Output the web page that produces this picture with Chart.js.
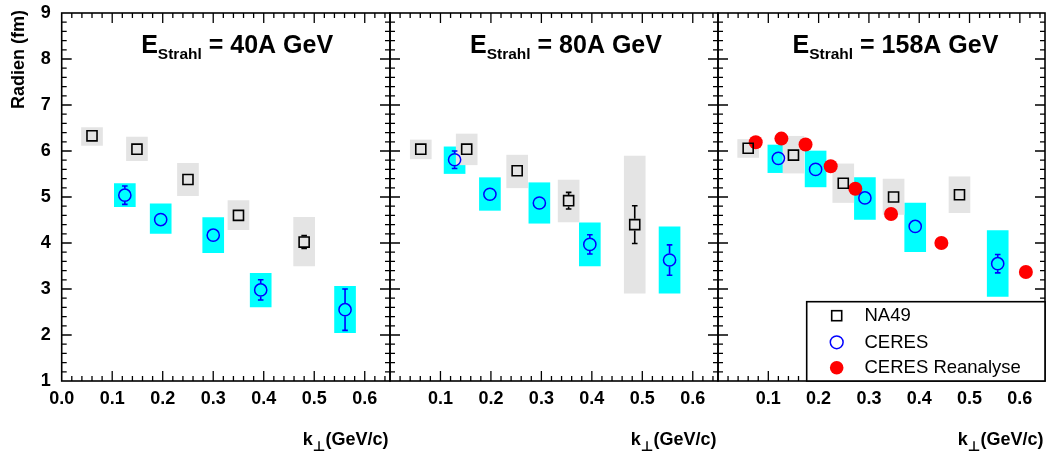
<!DOCTYPE html>
<html>
<head>
<meta charset="utf-8">
<script src="https://cdn.jsdelivr.net/npm/chart.js@4.4.0/dist/chart.umd.min.js"></script>
<style>
  html, body { margin: 0; padding: 0; background: #fff; }
  #wrap { position: relative; width: 1048px; height: 455px; }
  #wrap canvas { position: absolute; left: 0; top: 0; }
</style>
</head>
<body>
<div id="wrap">
  <canvas id="c40" width="1048" height="455"></canvas>
  <canvas id="c80" width="1048" height="455"></canvas>
  <canvas id="c158" width="1048" height="455"></canvas>
</div>
<script>
// panel titles (beam energy)
const energies = ['40A GeV', '80A GeV', '158A GeV'];
const yTitle = 'Radien (fm)';
const legendLabels = ['NA49', 'CERES', 'CERES Reanalyse'];

// 40A GeV
const na49K40 = [0.060, 0.149, 0.250, 0.350, 0.480];
const na49R40 = [6.33, 6.04, 5.38, 4.60, 4.02];
const na49Err40 = [0, 0, 0, 0, 0.14];
const na49SysLo40 = [6.12, 5.79, 5.03, 4.29, 3.50];
const na49SysHi40 = [6.51, 6.30, 5.73, 4.92, 4.56];
const ceresK40 = [0.125, 0.196, 0.300, 0.394, 0.561];
const ceresR40 = [5.04, 4.51, 4.17, 2.98, 2.55];
const ceresErr40 = [0.20, 0, 0, 0.22, 0.45];
const ceresSysLo40 = [4.79, 4.21, 3.79, 2.61, 2.05];
const ceresSysHi40 = [5.29, 4.85, 4.55, 3.34, 3.06];

// 80A GeV
const na49K80 = [0.061, 0.152, 0.252, 0.354, 0.485];
const na49R80 = [6.04, 6.04, 5.57, 4.92, 4.40];
const na49Err80 = [0, 0, 0, 0.18, 0.41];
const na49SysLo80 = [5.83, 5.70, 5.20, 4.46, 2.91];
const na49SysHi80 = [6.24, 6.37, 5.91, 5.37, 5.89];
const ceresK80 = [0.128, 0.198, 0.296, 0.396, 0.554];
const ceresR80 = [5.81, 5.06, 4.87, 3.97, 3.63];
const ceresErr80 = [0.19, 0, 0, 0.21, 0.33];
const ceresSysLo80 = [5.51, 4.71, 4.43, 3.50, 2.91];
const ceresSysHi80 = [6.09, 5.42, 5.31, 4.44, 4.35];

// 158A GeV
const na49K158 = [0.060, 0.150, 0.249, 0.349, 0.480];
const na49R158 = [6.06, 5.91, 5.30, 5.00, 5.05];
const na49Err158 = [0, 0, 0, 0, 0];
const na49SysLo158 = [5.86, 5.52, 4.88, 4.62, 4.66];
const na49SysHi158 = [6.25, 6.32, 5.72, 5.39, 5.44];
const ceresK158 = [0.120, 0.194, 0.292, 0.392, 0.556];
const ceresR158 = [5.84, 5.60, 4.98, 4.36, 3.55];
const ceresErr158 = [0, 0, 0, 0, 0.20];
const ceresSysLo158 = [5.53, 5.22, 4.51, 3.81, 2.84];
const ceresSysHi158 = [6.13, 6.00, 5.42, 4.87, 4.27];
const reanaK158 = [0.075, 0.126, 0.174, 0.224, 0.273, 0.344, 0.444, 0.612];
const reanaR158 = [6.19, 6.27, 6.14, 5.67, 5.18, 4.63, 4.00, 3.37];

const FONT = "'Liberation Sans', Arial, Helvetica, sans-serif";
Chart.defaults.font.family = FONT;

const pts = (ks, rs) => ks.map((k, i) => ({ x: k, y: rs[i] }));
const boxes = (ks, lo, hi) => ks.map((k, i) => ({ x: k, y: [lo[i], hi[i]] }));

// ROOT-like frame, inward ticks, error bars, titles, legend
const rootPad = {
  id: 'rootPad',
  afterDatasetsDraw(chart) {
    const ctx = chart.ctx;
    const ys = chart.scales.y;
    chart.data.datasets.forEach((ds, i) => {
      if (!ds.errors) return;
      const meta = chart.getDatasetMeta(i);
      ctx.save();
      ctx.strokeStyle = ds.borderColor;
      ctx.lineWidth = 1.6;
      meta.data.forEach((pt, j) => {
        const e = ds.errors[j];
        if (!e) return;
        const v = ds.data[j].y;
        const yt = ys.getPixelForValue(v + e), yb = ys.getPixelForValue(v - e);
        const gap = ds.errGap;
        ctx.beginPath();
        if (pt.y - gap > yt) { ctx.moveTo(pt.x, yt); ctx.lineTo(pt.x, pt.y - gap); }
        if (pt.y + gap < yb) { ctx.moveTo(pt.x, pt.y + gap); ctx.lineTo(pt.x, yb); }
        ctx.moveTo(pt.x - 2.8, yt); ctx.lineTo(pt.x + 2.8, yt);
        ctx.moveTo(pt.x - 2.8, yb); ctx.lineTo(pt.x + 2.8, yb);
        ctx.stroke();
      });
      ctx.restore();
    });
  },
  afterDraw(chart, args, opts) {
    const ctx = chart.ctx;
    const { left, right, top, bottom } = chart.chartArea;
    const xs = chart.scales.x, ys = chart.scales.y;
    ctx.save();
    ctx.strokeStyle = '#000';
    ctx.lineWidth = 1.3;
    ctx.beginPath();
    const nx = Math.floor(xs.max / 0.02 + 1e-6);
    for (let i = 1; i <= nx; i++) {
      const px = xs.getPixelForValue(i * 0.02);
      const len = i % 5 === 0 ? 10 : 5;
      ctx.moveTo(px, bottom); ctx.lineTo(px, bottom - len);
      ctx.moveTo(px, top); ctx.lineTo(px, top + len);
    }
    for (let i = 1; i < 40; i++) {
      const py = ys.getPixelForValue(ys.min + i * 0.2);
      const len = i % 5 === 0 ? 10 : 5;
      ctx.moveTo(left, py); ctx.lineTo(left + len, py);
      ctx.moveTo(right, py); ctx.lineTo(right - len, py);
    }
    ctx.stroke();
    ctx.lineWidth = 1.6;
    ctx.strokeRect(left, top, right - left, bottom - top);

    // panel title  E_Strahl = ...
    ctx.fillStyle = '#000';
    ctx.textAlign = 'left';
    ctx.textBaseline = 'alphabetic';
    let x = left + opts.titleOffset;
    ctx.font = 'bold 25px ' + FONT;
    ctx.fillText('E', x, 53.3);
    x += ctx.measureText('E').width;
    ctx.font = 'bold 15.5px ' + FONT;
    ctx.fillText('Strahl', x, 58.5);
    x += ctx.measureText('Strahl').width;
    ctx.font = 'bold 25px ' + FONT;
    ctx.fillText(' = ' + opts.title, x, 53.3);

    // x title  k⊥(GeV/c)
    ctx.font = 'bold 18px ' + FONT;
    const wk = ctx.measureText('k').width;
    const wr = ctx.measureText('(GeV/c)').width;
    ctx.font = "bold 14px 'DejaVu Sans', sans-serif";
    const wp = ctx.measureText('⊥').width;
    let tx = right - 1.5 - (wk + wp + wr);
    ctx.font = 'bold 18px ' + FONT;
    ctx.fillText('k', tx, 445);
    tx += wk;
    ctx.font = "bold 14px 'DejaVu Sans', sans-serif";
    ctx.fillText('⊥', tx, 451);
    tx += wp;
    ctx.font = 'bold 18px ' + FONT;
    ctx.fillText('(GeV/c)', tx, 445);

    if (opts.yTitle) {
      ctx.save();
      ctx.translate(19.5, 10);
      ctx.rotate(-Math.PI / 2);
      ctx.textAlign = 'right';
      ctx.textBaseline = 'middle';
      ctx.font = 'bold 18px ' + FONT;
      ctx.fillText(opts.yTitle, 0, 0);
      ctx.restore();
    }

    if (opts.legend) {
      const lx = 806.7, ly = 301.7;
      ctx.fillStyle = '#fff';
      ctx.fillRect(lx, ly, right - lx, bottom - ly);
      ctx.lineWidth = 1.6;
      ctx.strokeStyle = '#000';
      ctx.strokeRect(lx, ly, right - lx, bottom - ly);
      const rows = [315.7, 342.3, 367.7];
      const mx = 836.7;
      // NA49 open square
      ctx.lineWidth = 1.6;
      ctx.strokeStyle = '#000';
      ctx.strokeRect(mx - 5, rows[0] - 5, 10, 10);
      // CERES open circle
      ctx.strokeStyle = '#0000ff';
      ctx.lineWidth = 1.5;
      ctx.beginPath(); ctx.arc(mx, rows[1], 6.4, 0, Math.PI * 2); ctx.stroke();
      // CERES Reanalyse full circle
      ctx.fillStyle = '#ff0000';
      ctx.beginPath(); ctx.arc(mx, rows[2], 6.8, 0, Math.PI * 2); ctx.fill();
      ctx.fillStyle = '#000';
      ctx.font = '18.5px ' + FONT;
      ctx.textBaseline = 'middle';
      opts.legend.forEach((t, i) => ctx.fillText(t, 864.5, rows[i] + 0.5));
    }
    ctx.restore();
  }
};

function makePanel(id, p, d) {
  const datasets = [
    { type: 'bar', label: 'CERES sys', data: boxes(d.ceresK, d.ceresLo, d.ceresHi),
      backgroundColor: '#00ffff', barThickness: 21, grouped: false, order: 11 },
    { type: 'bar', label: 'NA49 sys', data: boxes(d.na49K, d.na49Lo, d.na49Hi),
      backgroundColor: '#e4e4e4', barThickness: 21, grouped: false, order: 10 },
  ];
  if (d.reanaK) {
    datasets.push({ type: 'scatter', label: legendLabels[2], data: pts(d.reanaK, d.reanaR),
      pointStyle: 'circle', pointRadius: 7, backgroundColor: '#ff0000', borderWidth: 0, order: 3 });
  }
  datasets.push({ type: 'scatter', label: legendLabels[1], data: pts(d.ceresK, d.ceresR),
    errors: d.ceresErr, errGap: 6.5,
    pointStyle: 'circle', pointRadius: 6.1, borderColor: '#0000ff', borderWidth: 1.5,
    backgroundColor: 'rgba(0,0,0,0)', order: 2 });
  datasets.push({ type: 'scatter', label: legendLabels[0], data: pts(d.na49K, d.na49R),
    errors: d.na49Err, errGap: 5.8,
    pointStyle: 'rect', pointRadius: 7.1, borderColor: '#000', borderWidth: 1.6,
    backgroundColor: 'rgba(0,0,0,0)', order: 1 });

  const padLeft = [0, 390, 718][p];
  const padRight = [1048 - 390, 1048 - 718, 1048 - 1045][p];

  new Chart(document.getElementById(id), {
    type: 'scatter',
    data: { datasets },
    plugins: [rootPad],
    options: {
      responsive: false,
      animation: false,
      events: [],
      devicePixelRatio: 1,
      layout: { autoPadding: false, padding: { left: padLeft, right: padRight, top: 13, bottom: 0 } },
      scales: {
        x: {
          type: 'linear', min: 0, max: 0.65, offset: false,
          border: { display: false },
          grid: { display: false, drawTicks: false, offset: false },
          ticks: {
            stepSize: 0.1, autoSkip: false, maxRotation: 0, includeBounds: false,
            padding: 7, color: '#000', font: { size: 18, weight: 'bold' },
            callback: v => (p > 0 && v === 0) ? '' : Number(v).toFixed(1)
          },
          afterFit: s => { s.height = 74; s.paddingLeft = 0; s.paddingRight = 0; }
        },
        y: {
          type: 'linear', min: 1, max: 9, display: p === 0,
          border: { display: false },
          grid: { display: false, drawTicks: false },
          ticks: { stepSize: 1, padding: 11, color: '#000', font: { size: 18, weight: 'bold' } },
          afterFit: s => {
            s.width = p === 0 ? 61.7 : 0;
            s.paddingTop = 0; s.paddingBottom = 0;
          }
        }
      },
      plugins: {
        legend: { display: false },
        tooltip: { enabled: false },
        rootPad: {
          title: energies[p],
          titleOffset: [79.5, 80, 74.5][p],
          yTitle: p === 0 ? yTitle : null,
          legend: p === 2 ? legendLabels : null
        }
      }
    }
  });
}

makePanel('c40', 0, {
  na49K: na49K40, na49R: na49R40, na49Err: na49Err40, na49Lo: na49SysLo40, na49Hi: na49SysHi40,
  ceresK: ceresK40, ceresR: ceresR40, ceresErr: ceresErr40, ceresLo: ceresSysLo40, ceresHi: ceresSysHi40
});
makePanel('c80', 1, {
  na49K: na49K80, na49R: na49R80, na49Err: na49Err80, na49Lo: na49SysLo80, na49Hi: na49SysHi80,
  ceresK: ceresK80, ceresR: ceresR80, ceresErr: ceresErr80, ceresLo: ceresSysLo80, ceresHi: ceresSysHi80
});
makePanel('c158', 2, {
  na49K: na49K158, na49R: na49R158, na49Err: na49Err158, na49Lo: na49SysLo158, na49Hi: na49SysHi158,
  ceresK: ceresK158, ceresR: ceresR158, ceresErr: ceresErr158, ceresLo: ceresSysLo158, ceresHi: ceresSysHi158,
  reanaK: reanaK158, reanaR: reanaR158
});
</script>
</body>
</html>
